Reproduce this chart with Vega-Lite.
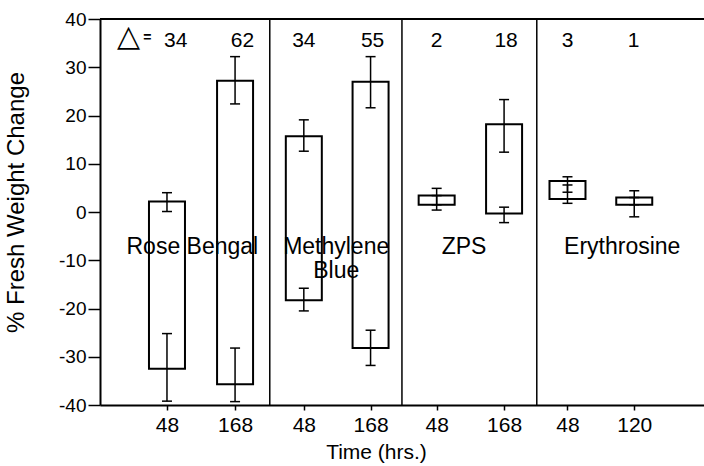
{
  "$schema": "https://vega.github.io/schema/vega-lite/v6.json",
  "width": 604,
  "height": 386,
  "autosize": "none",
  "padding": {"left": 100, "top": 19, "right": 0, "bottom": 61},
  "background": "white",
  "config": {
    "view": {"stroke": null},
    "font": "Liberation Sans",
    "text": {"color": "black", "font": "Liberation Sans"},
    "axis": {
      "grid": false,
      "domainColor": "black",
      "domainWidth": 2,
      "tickColor": "black",
      "tickWidth": 1.5,
      "labelColor": "black",
      "titleColor": "black",
      "labelFont": "Liberation Sans",
      "titleFont": "Liberation Sans",
      "titleFontWeight": "normal"
    }
  },
  "datasets": {
    "bars": [
      {"pos": 1, "dye": "Rose Bengal", "time": 48, "low": -32.5, "high": 2.2},
      {"pos": 2.02, "dye": "Rose Bengal", "time": 168, "low": -35.7, "high": 27.2},
      {"pos": 3.05, "dye": "Methylene Blue", "time": 48, "low": -18.3, "high": 15.7},
      {"pos": 4.05, "dye": "Methylene Blue", "time": 168, "low": -28.2, "high": 27.0},
      {"pos": 5.04, "dye": "ZPS", "time": 48, "low": 1.5, "high": 3.4},
      {"pos": 6.05, "dye": "ZPS", "time": 168, "low": -0.3, "high": 18.2},
      {"pos": 7, "dye": "Erythrosine", "time": 48, "low": 2.7, "high": 6.4},
      {"pos": 8, "dye": "Erythrosine", "time": 120, "low": 1.5, "high": 3.0}
    ],
    "errs": [
      {"pos": 1, "lo": 0.1, "hi": 4.0},
      {"pos": 1, "lo": -39.2, "hi": -25.2},
      {"pos": 2.02, "lo": 22.4, "hi": 32.2},
      {"pos": 2.02, "lo": -39.3, "hi": -28.2},
      {"pos": 3.05, "lo": 12.6, "hi": 19.1},
      {"pos": 3.05, "lo": -20.5, "hi": -15.8},
      {"pos": 4.05, "lo": 21.6, "hi": 32.2},
      {"pos": 4.05, "lo": -31.8, "hi": -24.5},
      {"pos": 5.04, "lo": 1.5, "hi": 4.9},
      {"pos": 5.04, "lo": 0.4, "hi": 3.4},
      {"pos": 6.05, "lo": 12.4, "hi": 23.3},
      {"pos": 6.05, "lo": -2.2, "hi": 1.0},
      {"pos": 7, "lo": 4.1, "hi": 7.3},
      {"pos": 7, "lo": 1.8, "hi": 5.6},
      {"pos": 8, "lo": 1.5, "hi": 4.4},
      {"pos": 8, "lo": -1.0, "hi": 3.0}
    ],
    "dividers": [{"pos": 2.54}, {"pos": 4.52}, {"pos": 6.54}],
    "counts": [
      {"pos": 1.13, "n": "34"},
      {"pos": 2.13, "n": "62"},
      {"pos": 3.05, "n": "34"},
      {"pos": 4.08, "n": "55"},
      {"pos": 5.04, "n": "2"},
      {"pos": 6.08, "n": "18"},
      {"pos": 7.0, "n": "3"},
      {"pos": 7.99, "n": "1"}
    ],
    "panels": [
      {"pos": 1.38, "label": "Rose Bengal"},
      {"pos": 3.535, "label": "Methylene\nBlue"},
      {"pos": 5.45, "label": "ZPS"},
      {"pos": 7.82, "label": "Erythrosine"}
    ]
  },
  "layer": [
    {
      "data": {"name": "bars"},
      "mark": {"type": "bar", "size": 36, "fill": "white", "stroke": "black", "strokeWidth": 2},
      "encoding": {
        "x": {
          "field": "pos", "type": "quantitative",
          "scale": {"domain": [0.0716, 8.97], "nice": false, "zero": false},
          "axis": {
            "values": [1, 2.02, 3.05, 4.05, 5.04, 6.05, 7, 8],
            "labelExpr": "['48','168','48','168','48','168','48','120'][indexof([1,2.02,3.05,4.05,5.04,6.05,7,8], datum.value)]",
            "tickSize": 5,
            "labelFontSize": 21,
            "labelPadding": 4,
            "title": "Time (hrs.)",
            "titleFontSize": 21,
            "titleX": 276,
            "titleY": 53,
            "titleAlign": "center",
            "titleBaseline": "alphabetic"
          }
        },
        "y": {
          "field": "low", "type": "quantitative",
          "scale": {"domain": [-40, 40], "nice": false, "zero": false},
          "axis": {
            "values": [-40, -35, -30, -25, -20, -15, -10, -5, 0, 5, 10, 15, 20, 25, 30, 35, 40],
            "labelExpr": "datum.value % 10 === 0 ? '' + datum.value : ''",
            "tickSize": {"condition": {"test": "datum.value % 10 === 0", "value": 12}, "value": 4},
            "labelFontSize": 19,
            "labelPadding": 2,
            "title": "% Fresh Weight Change",
            "titleFontSize": 24,
            "titleAngle": -90,
            "titleX": -84,
            "titleY": 183,
            "titleAlign": "center",
            "titleBaseline": "middle"
          }
        },
        "y2": {"field": "high"}
      }
    },
    {
      "data": {"name": "dividers"},
      "mark": {"type": "rule", "color": "black", "strokeWidth": 1.5},
      "encoding": {"x": {"field": "pos", "type": "quantitative", "title": "Time (hrs.)"}}
    },
    {
      "data": {"values": [{}]},
      "mark": {"type": "rule", "color": "black", "strokeWidth": 2},
      "encoding": {"y": {"datum": 40, "title": "% Fresh Weight Change"}}
    },
    {
      "data": {"name": "errs"},
      "mark": {"type": "rule", "color": "black", "strokeWidth": 1.5},
      "encoding": {
        "x": {"field": "pos", "type": "quantitative", "title": "Time (hrs.)"},
        "y": {"field": "lo", "type": "quantitative", "title": "% Fresh Weight Change"},
        "y2": {"field": "hi"}
      }
    },
    {
      "data": {"name": "errs"},
      "mark": {"type": "tick", "orient": "horizontal", "size": 10, "thickness": 1.5, "color": "black", "opacity": 1},
      "encoding": {
        "x": {"field": "pos", "type": "quantitative", "title": "Time (hrs.)"},
        "y": {"field": "lo", "type": "quantitative", "title": "% Fresh Weight Change"}
      }
    },
    {
      "data": {"name": "errs"},
      "mark": {"type": "tick", "orient": "horizontal", "size": 10, "thickness": 1.5, "color": "black", "opacity": 1},
      "encoding": {
        "x": {"field": "pos", "type": "quantitative", "title": "Time (hrs.)"},
        "y": {"field": "hi", "type": "quantitative", "title": "% Fresh Weight Change"}
      }
    },
    {
      "data": {"name": "counts"},
      "mark": {"type": "text", "fontSize": 21, "baseline": "middle", "align": "center"},
      "encoding": {
        "x": {"field": "pos", "type": "quantitative", "title": "Time (hrs.)"},
        "y": {"datum": 35.5, "title": "% Fresh Weight Change"},
        "text": {"field": "n"}
      }
    },
    {
      "data": {"name": "panels"},
      "mark": {"type": "text", "fontSize": 23, "baseline": "alphabetic", "align": "center", "lineBreak": "\n", "lineHeight": 24},
      "encoding": {
        "x": {"field": "pos", "type": "quantitative", "title": "Time (hrs.)"},
        "y": {"datum": -8.8, "title": "% Fresh Weight Change"},
        "text": {"field": "label"}
      }
    },
    {
      "data": {"values": [{"pos": 0.425, "sym": "△"}]},
      "mark": {"type": "text", "font": "DejaVu Sans", "fontSize": 30, "baseline": "middle", "align": "center"},
      "encoding": {
        "x": {"field": "pos", "type": "quantitative", "title": "Time (hrs.)"},
        "y": {"datum": 36.3, "title": "% Fresh Weight Change"},
        "text": {"field": "sym"}
      }
    },
    {
      "data": {"values": [{"pos": 0.705, "sym": "="}]},
      "mark": {"type": "text", "fontSize": 14, "fontWeight": "bold", "baseline": "middle", "align": "center"},
      "encoding": {
        "x": {"field": "pos", "type": "quantitative", "title": "Time (hrs.)"},
        "y": {"datum": 36.1, "title": "% Fresh Weight Change"},
        "text": {"field": "sym"}
      }
    }
  ]
}
